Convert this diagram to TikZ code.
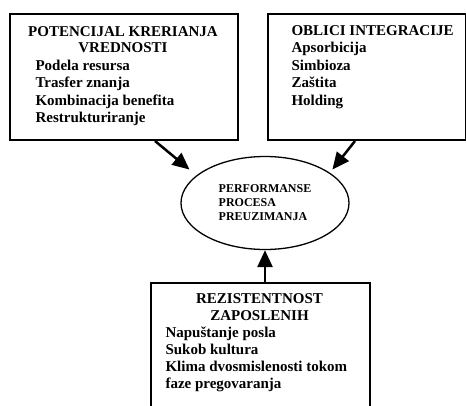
\documentclass[tikz,border=0pt]{standalone}
\usepackage{fontspec}
\setmainfont{Liberation Serif}
\usetikzlibrary{arrows.meta,shapes.geometric}

\begin{document}
\begin{tikzpicture}[
    x=1pt, y=-1pt,
    box/.style={draw, line width=2pt, anchor=north west, inner sep=0pt},
    title/.style={font=\fontsize{15}{17.5}\selectfont\bfseries, anchor=base},
    item/.style={font=\fontsize{15}{17.5}\selectfont\bfseries, anchor=base west},
    oval/.style={ellipse, draw, line width=1.3pt, minimum width=168pt, minimum height=93pt,
        inner sep=0pt, align=left, font=\fontsize{12}{14}\selectfont\bfseries},
    link/.style={-{Triangle[length=17pt,width=15pt]}, line width=2.5pt}
]
    \clip (0,0) rectangle (466,405);

    % value creation box
    \node[box, minimum width=228pt, minimum height=126pt] (potencijal) at (9,13) {};
    \node[title] (potT1) at (123,36) {POTENCIJAL KRERIANJA};
    \node[title] (potT2) at (123,52.5) {VREDNOSTI};
    \foreach \txt [count=\i] in {Podela resursa,Trasfer znanja,Kombinacija benefita,Restrukturiranje}
        \node[item] (pot\i) at (32,52.5+17.6*\i) {\txt};

    % integration forms box
    \node[box, minimum width=198pt, minimum height=126pt] (oblici) at (267,13) {};
    \node[item] (oblT) at (288,35.5) {OBLICI INTEGRACIJE};
    \foreach \txt [count=\i] in {Apsorbicija,Simbioza,Zaštita,Holding}
        \node[item] (obl\i) at (288,35.5+17.4*\i) {\txt};

    % centre
    \node[oval] (performanse) at (265,203) {PERFORMANSE\\PROCESA\\PREUZIMANJA};

    % employee resistance box
    \node[box, minimum width=219pt, minimum height=140pt] (zaposleni) at (150,282) {};
    \node[title] (zapT1) at (259.5,303) {REZISTENTNOST};
    \node[title] (zapT2) at (259.5,320) {ZAPOSLENIH};
    \foreach \txt [count=\i] in {Napuštanje posla,Sukob kultura,Klima dvosmislenosti tokom,faze pregovaranja}
        \node[item] (zap\i) at (162,320+17*\i) {\txt};

    \draw[link, shorten >=9pt] ([xshift=146pt]potencijal.south west) -- (performanse.158);
    \draw[link, shorten >=4pt] ([xshift=88pt]oblici.south west) -- (performanse.25);
    \draw[link] (zaposleni.north -| performanse.south) -- (performanse.south);
\end{tikzpicture}
\end{document}
